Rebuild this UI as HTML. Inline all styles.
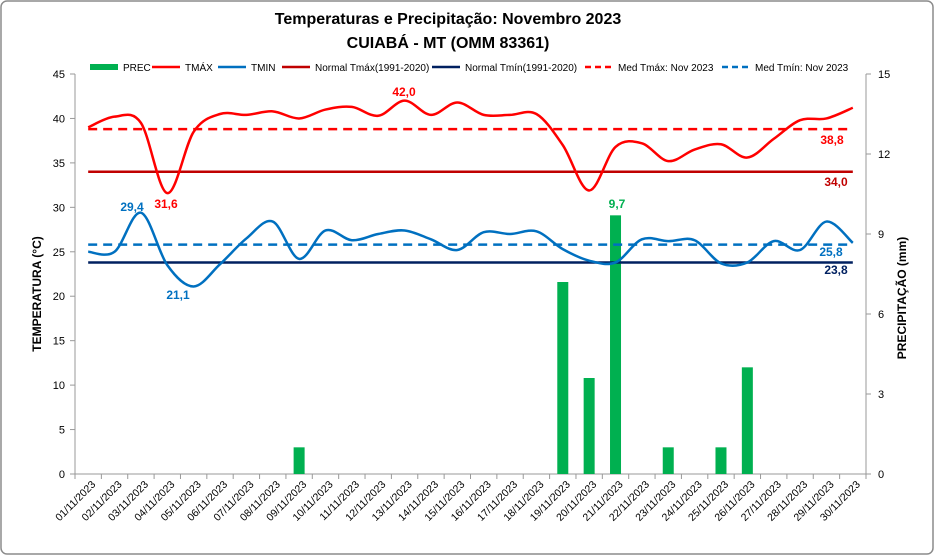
<!DOCTYPE html>
<html><head><meta charset="utf-8"><style>
html,body{margin:0;padding:0;background:#fff}
svg{display:block;font-family:"Liberation Sans",sans-serif}
</style></head><body>
<svg id="s" width="935" height="556" viewBox="0 0 935 556" xmlns="http://www.w3.org/2000/svg">
<rect x="1" y="1" width="932" height="553" rx="6" fill="#fff" stroke="#8c8c8c" stroke-width="1.5"/>
<text x="448" y="24" text-anchor="middle" font-size="16" font-weight="bold">Temperaturas  e Precipitação: Novembro 2023</text>
<text x="448" y="48" text-anchor="middle" font-size="16" font-weight="bold">CUIABÁ - MT (OMM 83361)</text>
<text transform="translate(41,294) rotate(-90)" text-anchor="middle" font-size="12" font-weight="bold">TEMPERATURA  (°C)</text>
<text transform="translate(906,298) rotate(-90)" text-anchor="middle" font-size="12" font-weight="bold">PRECIPITAÇÃO (mm)</text>
<g id="g"></g>
</svg>
<script>
const g=document.getElementById('g');let h='';
const L=75,R=866,T=74,B=474,W=(R-L)/30;
const cx=i=>L+W*(i+0.5), yt=v=>B-v*(B-T)/45, yp=v=>B-v*(B-T)/15;
h+=`<line x1="${L}" y1="${T}" x2="${L}" y2="${B}" stroke="#999"/><line x1="${R}" y1="${T}" x2="${R}" y2="${B}" stroke="#999"/><line x1="${L}" y1="${B}" x2="${R}" y2="${B}" stroke="#999"/>`;
for(let v=0;v<=45;v+=5){const y=yt(v);h+=`<line x1="${L-5}" y1="${y}" x2="${L}" y2="${y}" stroke="#999"/><text x="${L-10}" y="${y+4}" text-anchor="end" font-size="11" fill="#000">${v}</text>`;}
for(let v=0;v<=15;v+=3){const y=yp(v);h+=`<line x1="${R}" y1="${y}" x2="${R+5}" y2="${y}" stroke="#999"/><text x="${R+12}" y="${y+4}" font-size="11">${v}</text>`;}
for(let i=0;i<=30;i++){const x=L+W*i;h+=`<line x1="${x}" y1="${B}" x2="${x}" y2="${B+5}" stroke="#999"/>`;}
for(let i=0;i<30;i++){const d=String(i+1).padStart(2,'0')+'/11/2023';h+=`<text transform="translate(${cx(i)+8},${B+11}) rotate(-45)" text-anchor="end" font-size="10.5">${d}</text>`;}
const P={8:1.0,18:7.2,19:3.6,20:9.7,22:1.0,24:1.0,25:4.0};
for(const k in P){const x=cx(+k);h+=`<rect x="${x-5.5}" y="${yp(P[k])}" width="11" height="${B-yp(P[k])}" fill="#00b050"/>`;}
const tx=[39,40.2,39.5,31.6,38.5,40.5,40.4,40.8,40,41,41.3,40.3,42,40.4,41.8,40.4,40.4,40.5,37,31.9,36.8,37.2,35.2,36.5,37.1,35.6,37.7,39.8,40,41.2];
const tn=[25,25,29.4,23.5,21.1,23.6,26.5,28.4,24.2,27.4,26.3,27,27.4,26.4,25.2,27.2,27,27.3,25.3,24,23.8,26.4,26.2,26.3,23.7,23.8,26.2,25.2,28.4,26];
function path(a){const p=a.map((v,i)=>[cx(i),yt(v)]);let d=`M${p[0][0]},${p[0][1]}`;for(let i=0;i<p.length-1;i++){const p0=p[i-1]||p[i],p1=p[i],p2=p[i+1],p3=p[i+2]||p2,t=6;d+=` C${p1[0]+(p2[0]-p0[0])/t},${p1[1]+(p2[1]-p0[1])/t} ${p2[0]-(p3[0]-p1[0])/t},${p2[1]-(p3[1]-p1[1])/t} ${p2[0]},${p2[1]}`;}return d;}
const x0=cx(0),x1=cx(29);
h+=`<line x1="${x0}" y1="${yt(34)}" x2="${x1}" y2="${yt(34)}" stroke="#c00000" stroke-width="2.5"/>`;
h+=`<line x1="${x0}" y1="${yt(23.8)}" x2="${x1}" y2="${yt(23.8)}" stroke="#002060" stroke-width="2.5"/>`;
h+=`<line x1="${x0}" y1="${yt(38.8)}" x2="${x1}" y2="${yt(38.8)}" stroke="#ff0000" stroke-width="2.5" stroke-dasharray="9,6"/>`;
h+=`<line x1="${x0}" y1="${yt(25.8)}" x2="${x1}" y2="${yt(25.8)}" stroke="#0070c0" stroke-width="2.5" stroke-dasharray="9,6"/>`;
h+=`<path d="${path(tx)}" fill="none" stroke="#ff0000" stroke-width="2.5"/>`;
h+=`<path d="${path(tn)}" fill="none" stroke="#0070c0" stroke-width="2.5"/>`;
const lb=(x,y,t,c)=>h+=`<text x="${x}" y="${y}" text-anchor="middle" font-size="12" font-weight="bold" fill="${c}">${t}</text>`;
lb(404,96,'42,0','#ff0000');lb(166,208,'31,6','#ff0000');lb(132,211,'29,4','#0070c0');lb(178,299,'21,1','#0070c0');
lb(832,144,'38,8','#ff0000');lb(836,186,'34,0','#c00000');lb(617,208,'9,7','#00b050');lb(831,256,'25,8','#0070c0');lb(836,274,'23,8','#002060');
const lg=[[90,'PREC','#00b050',0,1],[152,'TMÁX','#ff0000',0],[218,'TMIN','#0070c0',0],[282,'Normal Tmáx(1991-2020)','#c00000',0],[432,'Normal Tmín(1991-2020)','#002060',0],[585,'Med Tmáx: Nov 2023','#ff0000',1],[722,'Med Tmín: Nov 2023','#0070c0',1]];
for(const [x,t,c,da,bar] of lg){if(bar)h+=`<rect x="${x}" y="64" width="28" height="6" fill="${c}"/>`;else h+=`<line x1="${x}" y1="67" x2="${x+28}" y2="67" stroke="${c}" stroke-width="2.5" ${da?'stroke-dasharray="6,4"':''}/>`;h+=`<text x="${x+33}" y="71" font-size="10">${t}</text>`;}
g.innerHTML=h;
</script>
</body></html>
